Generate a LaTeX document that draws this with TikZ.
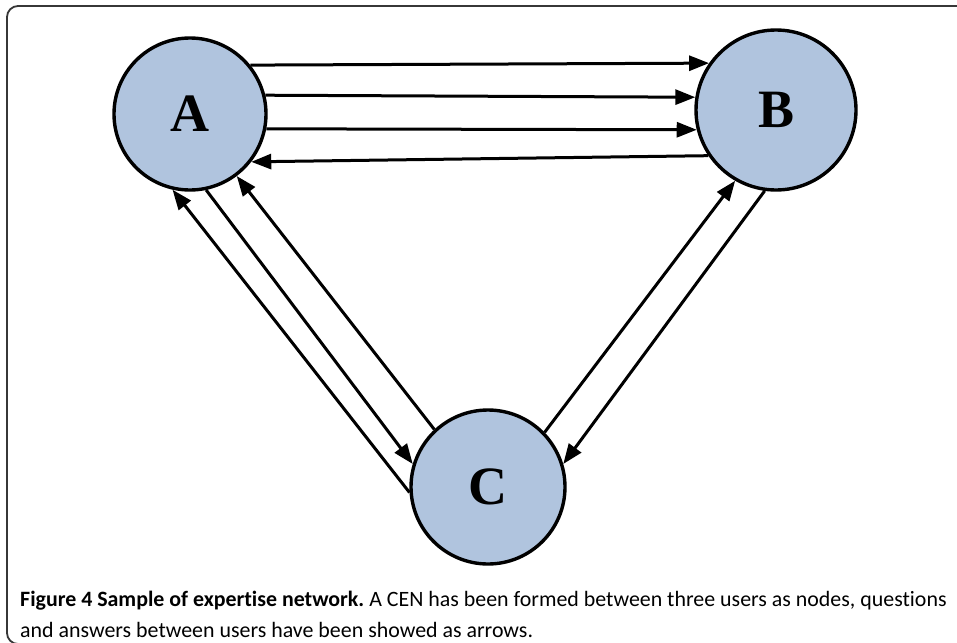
\documentclass[tikz,border=0pt]{standalone}
\usepackage{fontspec}
\setmainfont{Liberation Serif}
\newfontfamily\capfont[Ligatures=NoCommon]{Carlito}
\usetikzlibrary{arrows.meta}
\definecolor{nodefill}{RGB}{176,196,222}
\definecolor{framegray}{RGB}{55,55,55}
\frenchspacing

\begin{document}
\begin{tikzpicture}[x=1pt,y=-1pt,
  user/.style={circle, draw=black, line width=3.4pt, fill=nodefill, inner sep=0pt,
    font=\fontsize{54}{54}\selectfont\bfseries},
  link/.style={line width=3pt, -{Triangle[length=20pt,width=15pt]}},
  captext/.style={anchor=base west, inner sep=0pt, font=\capfont\fontsize{21.9}{30}\selectfont}]
\useasboundingbox (0,0) rectangle (957,642);

% frame around figure and caption
\begin{scope}
  \clip (0,0) rectangle (957,642);
  \draw[framegray, line width=1.8pt, rounded corners=11pt] (7,6) rectangle (990,644);
\end{scope}

% users
\node[user, minimum size=152pt] (A) at (190,114) {A};
\node[user, minimum size=160pt] (B) at (776,110) {B};
\node[user, minimum size=154pt] (C) at (488,487) {C};

% questions and answers between A and B
\draw[link] (A.39.9)  -- (B.145.9);
\draw[link] (A.14.1)  -- (B.171.6);
\draw[link] (A.-11.8) -- (B.194.8);
\draw[link] (B.214.1) -- (A.-38.9);

% between A and C
\draw[link] (C.184.2) -- (A.257);
\draw[link] (A.282.1) -- (C.163.3);
\draw[link] (C.133.5) -- (A.307.4);

% between B and C
\draw[link] (C.44)    -- (B.240.3);
\draw[link] (B.262.5) -- (C.17.6);

% caption
\node[captext] (cap1) at (20,606) {\textbf{Figure 4 Sample of expertise network.} A CEN has been formed between three users as nodes, questions};
\node[captext] (cap2) at (20,637) {and answers between users have been showed as arrows.};
\end{tikzpicture}
\end{document}
